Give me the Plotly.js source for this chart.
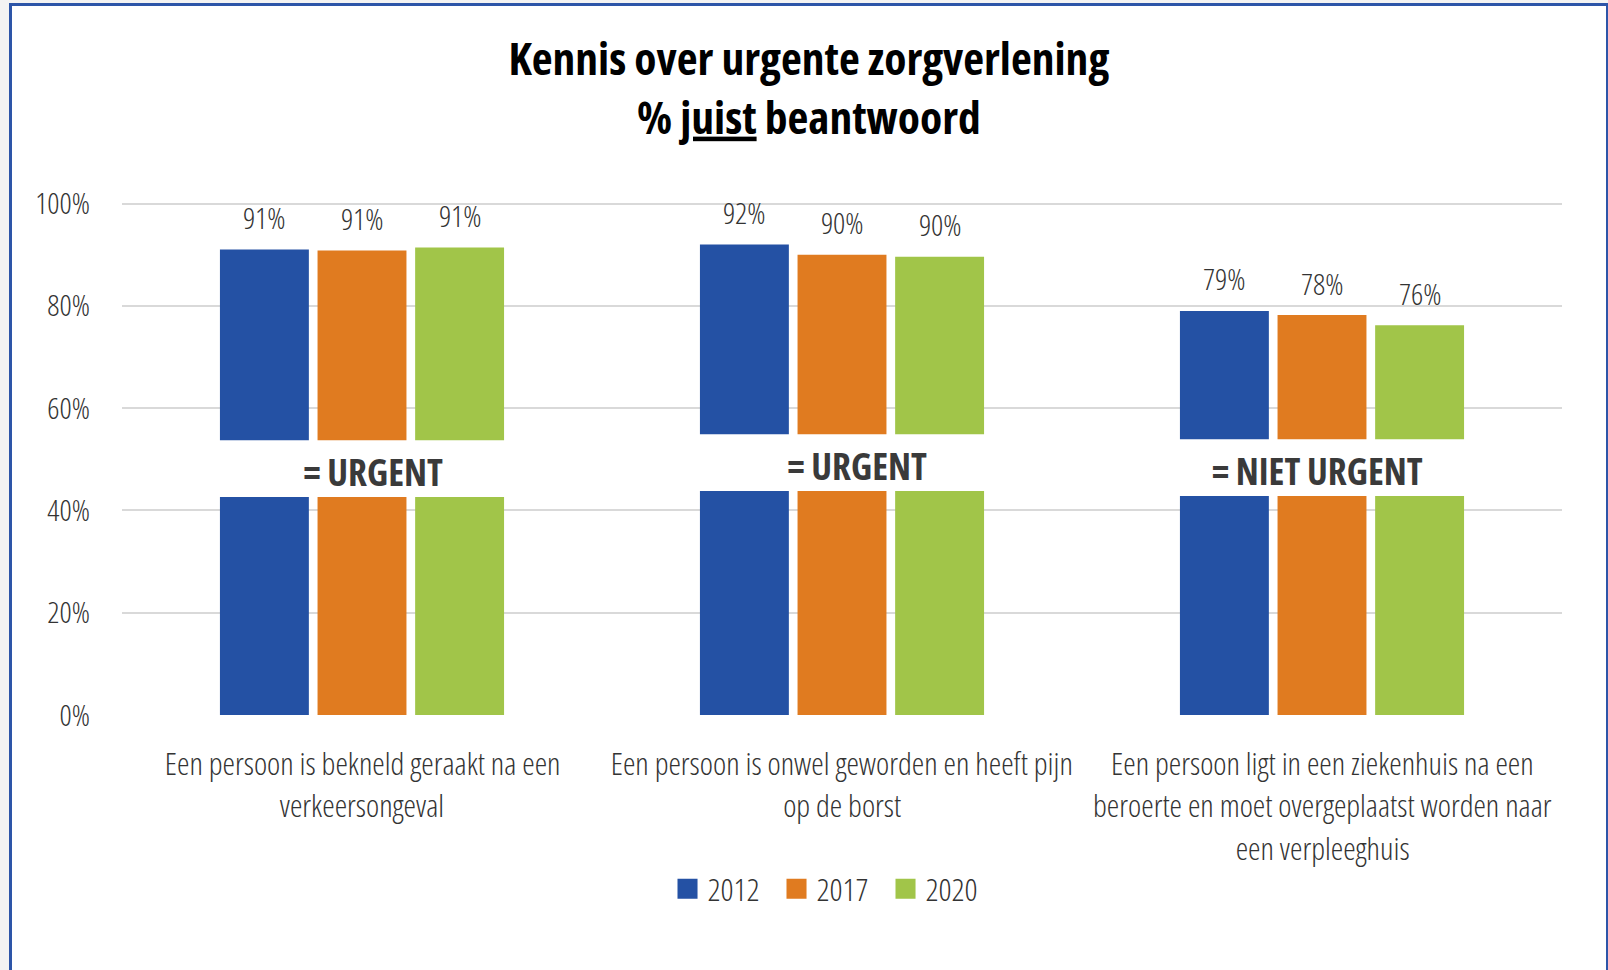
<!DOCTYPE html>
<html><head><meta charset="utf-8">
<script src="https://cdn.plot.ly/plotly-3.0.1.min.js"></script>
<style>
html,body{margin:0;padding:0;background:#f3f3f3;width:1608px;height:970px;overflow:hidden;}
#frame{position:absolute;left:9px;top:3px;width:1599px;height:967px;box-sizing:border-box;background:#fff;border-left:3px solid #2D55A8;border-top:3px solid #2D55A8;border-right:2px solid #2D55A8;}
#chart{position:absolute;left:0;top:0;width:1608px;height:970px;}
#chart text{font-stretch:75%;}
#chart .legendpoints path{transform-box:view-box;transform-origin:0 0;transform:translate(20px,0px) scale(1.67);}
</style></head>
<body>
<div id="frame"></div>
<div id="chart"></div>
<script>
const categories = [
  'Een persoon is bekneld geraakt na een<br>verkeersongeval',
  'Een persoon is onwel geworden en heeft pijn<br>op de borst',
  'Een persoon ligt in een ziekenhuis na een<br>beroerte en moet overgeplaatst worden naar<br>een verpleeghuis'
];
const years = ['2012', '2017', '2020'];
const v2012 = [91.0, 92.0, 79.0];
const v2017 = [90.8, 90.0, 78.2];
const v2020 = [91.4, 89.6, 76.2];
const bandTop = [53.7, 54.9, 53.9];
const bandBottom = [42.6, 43.8, 42.8];
const bandLabels = ['= URGENT', '= URGENT', '= NIET URGENT'];
const yTicks = [0, 20, 40, 60, 80, 100];

const colors = ['#2451A4', '#E07B20', '#A1C549'];
const series = [v2012, v2017, v2020];
const FONT = 'Open Sans';
const TXT = '#333333';

const traces = series.map((vals, i) => ({
  type: 'bar', name: years[i], x: categories, y: vals,
  marker: {color: colors[i], line: {width: 0}},
  hoverinfo: 'skip'
}));

const annotations = [];
const slot = 97.7;
series.forEach((vals, i) => {
  vals.forEach((v, k) => {
    annotations.push({
      x: categories[k], y: v, xref: 'x', yref: 'y', text: Math.round(v) + '%',
      showarrow: false, xshift: (i - 1) * slot, yshift: 32, yanchor: 'middle',
      font: {family: FONT, size: 30, weight: 300, color: TXT}
    });
  });
});
const bandShift = [11, 15, -5];
const shapes = [];
categories.forEach((c, k) => {
  shapes.push({type: 'rect', xref: 'x', yref: 'y', x0: k - 0.32, x1: k + 0.32,
    y0: bandBottom[k], y1: bandTop[k], fillcolor: '#ffffff', line: {width: 0}, layer: 'above'});
  annotations.push({x: c, y: (bandTop[k] + bandBottom[k]) / 2, xref: 'x', yref: 'y',
    text: '<b>' + bandLabels[k] + '</b>', showarrow: false, xshift: bandShift[k], yshift: -3, yanchor: 'middle',
    font: {family: FONT, size: 37, weight: 700, color: '#3a3a3a'}});
  c.split('<br>').forEach((line, j) => {
    annotations.push({x: c, y: 0, xref: 'x', yref: 'y', text: line, showarrow: false,
      yanchor: 'middle', yshift: -(47 + j * 42.5),
      font: {family: FONT, size: 31.5, weight: 300, color: TXT}});
  });
});

const layout = {
  width: 1608, height: 970,
  paper_bgcolor: 'rgba(0,0,0,0)', plot_bgcolor: 'rgba(0,0,0,0)',
  margin: {l: 122, r: 46, t: 202, b: 255, pad: 0},
  title: {
    text: 'Kennis over urgente zorgverlening<br>% <span style="text-decoration:underline">juist</span> beantwoord',
    font: {family: FONT, size: 45.5, weight: 700, color: '#000000'},
    x: 0.503, xref: 'container', xanchor: 'center',
    y: 1 - 74.5 / 970, yref: 'container', yanchor: 'middle'
  },
  barmode: 'group', bargap: 0.39, bargroupgap: 0.089,
  xaxis: {type: 'category', range: [-0.5, 2.5], autorange: false, showticklabels: false, ticks: '',
    showgrid: false, zeroline: false, showline: false},
  yaxis: {range: [0, 100.3], autorange: false, tickvals: yTicks, ticktext: yTicks.map(t => t + '%'), showgrid: true,
    gridcolor: '#d9d9d9', gridwidth: 2, zeroline: false, showline: false, ticks: '',
    ticklabelstandoff: 31,
    tickfont: {family: FONT, size: 30, weight: 300, color: TXT}},
  showlegend: true,
  legend: {orientation: 'h', xref: 'container', yref: 'container', x: 0.5168, xanchor: 'center',
    y: 1 - 889 / 970, yanchor: 'middle', entrywidth: 64, entrywidthmode: 'pixels',
    font: {family: FONT, size: 32, weight: 300, color: TXT}, bgcolor: 'rgba(0,0,0,0)'},
  annotations: annotations,
  shapes: shapes
};
Plotly.newPlot('chart', traces, layout, {displayModeBar: false, staticPlot: true});
</script>
</body></html>
